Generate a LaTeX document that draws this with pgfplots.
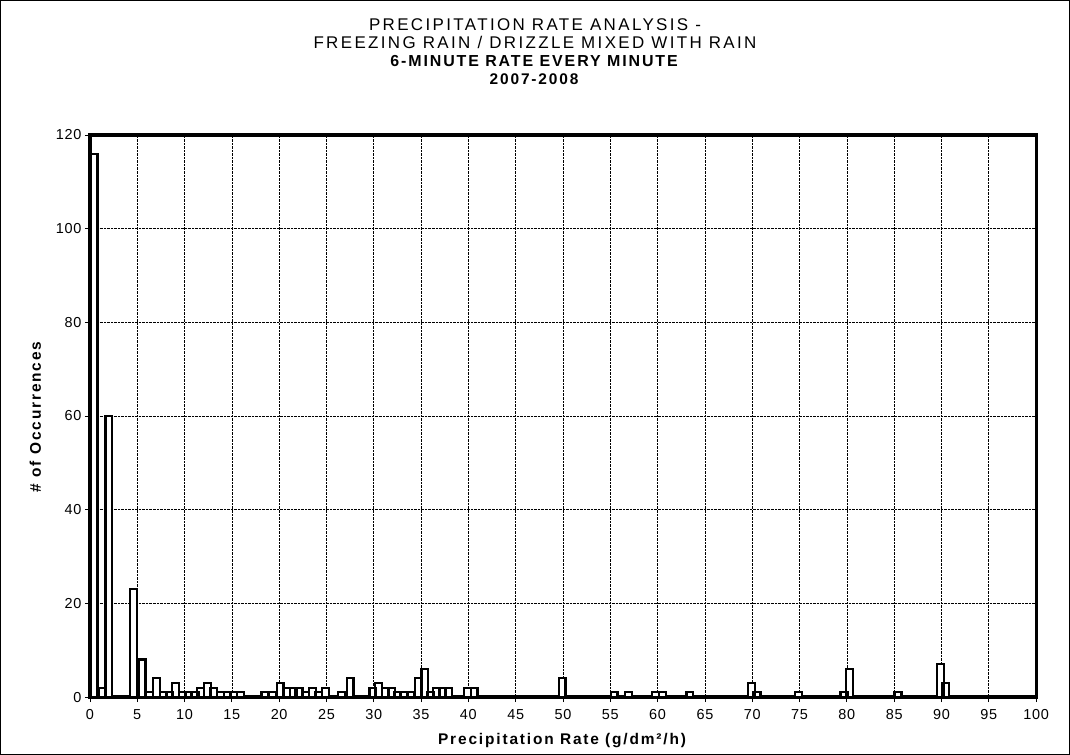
\documentclass[border=0pt]{standalone}
\usepackage{fontspec}
\setmainfont{Liberation Sans}
\newfontfamily\spaced[LetterSpace=12]{Liberation Sans}
\newfontfamily\wide[LetterSpace=14]{Liberation Sans}
\newfontfamily\tickfont[LetterSpace=5]{Liberation Sans}
\usepackage{pgfplots}
\pgfplotsset{compat=1.18}
\begin{document}
\begin{tikzpicture}[x=1bp,y=1bp]
\begin{axis}[
  name=ax,
  scale only axis,
  width=946bp, height=562bp,
  xmin=0, xmax=100, ymin=0, ymax=120,
  xtick={0,5,...,100}, ytick={0,20,...,120},
  grid=major,
  major grid style={black, densely dotted, line width=0.6bp},
  axis line style={black, line width=3.2bp},
  tick style={black, line width=0.8bp},
  tick align=outside,
  major tick length=5bp,
  xtick pos=bottom, ytick pos=left,
  /pgf/number format/assume math mode=true,
  ticklabel style={font=\tickfont\fontsize{14.5}{16}\selectfont},
  xticklabel style={yshift=-4bp},
  xlabel={\textbf{Precipitation Rate (g/dm²/h)}},
  ylabel={\textbf{\# of Occurrences}},
  label style={font=\spaced\fontsize{15.5}{17}\selectfont},
  xlabel style={yshift=-7bp},
  ylabel style={yshift=8bp},
  clip=true,
]
\addplot[ybar, bar width=0.72, fill=white, draw=black, line width=2.3bp] coordinates {
(0.45,116) (1.27,2) (2.0,60) (4.6,23) (5.5,8) (6.3,1) (7.05,4) (7.8,1) (8.4,1)
(9.05,3) (9.75,1) (10.45,1) (11.1,1) (11.7,2) (12.4,3) (13.1,2) (13.8,1) (14.5,1)
(15.2,1) (15.9,1)
(18.5,1) (19.3,1) (20.1,3) (20.8,2) (21.5,2) (22.1,2) (22.8,1) (23.5,2) (24.2,1) (24.9,2)
(26.6,1) (27.5,4)
(29.9,2) (30.5,3) (31.2,2) (31.9,2) (32.5,1) (33.2,1) (33.9,1) (34.7,4) (35.4,6)
(36.0,1) (36.6,2) (37.3,2) (37.9,2)
(39.9,2) (40.6,2)
(49.9,4)
(55.4,1) (56.9,1) (59.8,1) (60.5,1) (63.4,1)
(69.9,3) (70.5,1) (74.9,1) (79.7,1) (80.3,6) (85.4,1) (89.9,7) (90.4,3)
};
\end{axis}
\draw[black, line width=0.8bp] ([xshift=-89.5bp, yshift=-57.5bp]ax.south west) rectangle ([xshift=33.5bp, yshift=134.5bp]ax.north east);
\node[align=center, anchor=south, font=\fontsize{17}{18}\selectfont] at ([xshift=-28bp, yshift=46.5bp]ax.north)
 {{\wide PRECIPITATION RATE ANALYSIS -}\\
  {\wide FREEZING RAIN / DRIZZLE MIXED WITH RAIN}\\
  {\spaced\fontsize{16}{18}\selectfont\textbf{6-MINUTE RATE EVERY MINUTE}}\\
  {\spaced\fontsize{15.5}{18}\selectfont\textbf{2007-2008}}};
\end{tikzpicture}
\end{document}
